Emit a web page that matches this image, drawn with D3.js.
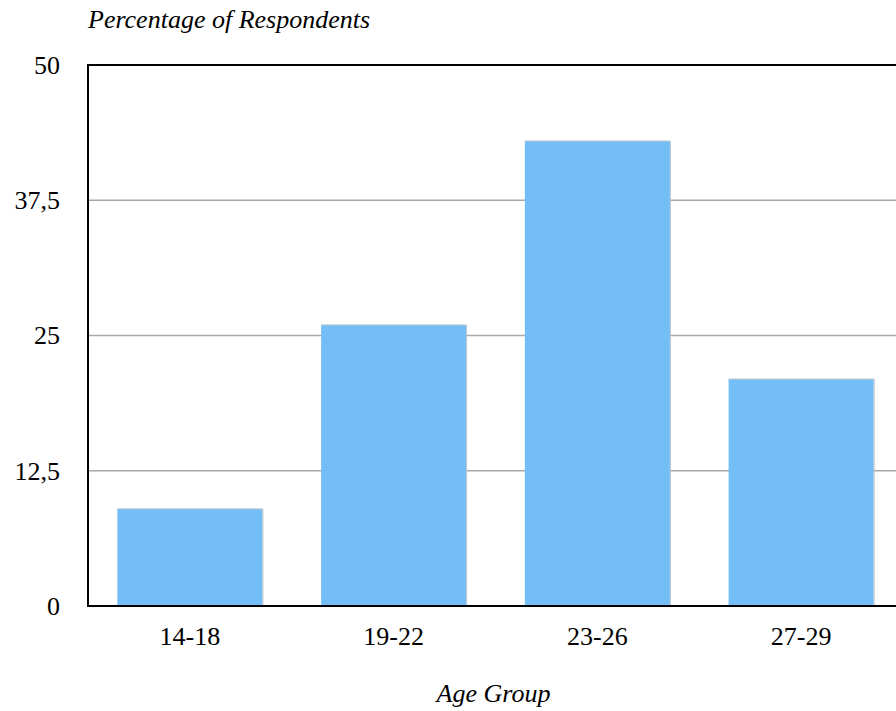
<!DOCTYPE html>
<html>
<head>
<meta charset="utf-8">
<script src="https://cdn.jsdelivr.net/npm/d3@7/dist/d3.min.js"></script>
<style>
  html, body { margin: 0; padding: 0; background: #fff; }
  svg { display: block; font-family: "Liberation Serif", "Times New Roman", serif; }
</style>
</head>
<body>
<svg id="chart" width="896" height="711"></svg>
<script>
// Survey results: share of respondents per age group
const categories = ["14-18", "19-22", "23-26", "27-29"];
const values = [9, 26, 43, 21];
const tickValues = [0, 12.5, 25, 37.5, 50];
const yTitle = "Percentage of Respondents";
const xTitle = "Age Group";

const svg = d3.select("#chart");
const margin = { left: 88, top: 65, right: 903, bottom: 606 };
const fontSize = 26;

const x = d3.scaleBand()
  .domain(categories)
  .range([margin.left, margin.right])
  .paddingInner(0.288)
  .paddingOuter(0.144);

const y = d3.scaleLinear()
  .domain([0, 50])
  .range([margin.bottom, margin.top]);

const fmt = d => String(d).replace(".", ",");

// horizontal gridlines
svg.append("g")
  .selectAll("line")
  .data(tickValues.filter(d => d > 0 && d < 50))
  .join("line")
  .attr("x1", margin.left)
  .attr("x2", margin.right)
  .attr("y1", d => y(d))
  .attr("y2", d => y(d))
  .attr("stroke", "#a8a8a8")
  .attr("stroke-width", 1.5);

// bars
svg.append("g")
  .selectAll("rect")
  .data(values)
  .join("rect")
  .attr("x", (d, i) => x(categories[i]))
  .attr("y", d => y(d))
  .attr("width", x.bandwidth())
  .attr("height", d => y(0) - y(d))
  .attr("fill", "#73bef7");

// light edge on top and right of each bar
svg.append("g")
  .selectAll("path")
  .data(values)
  .join("path")
  .attr("d", (d, i) => {
    const x0 = x(categories[i]), x1 = x0 + x.bandwidth();
    return `M${x0},${y(d) + 0.5}H${x1 + 0.5}V${y(0)}`;
  })
  .attr("fill", "none")
  .attr("stroke", "#b8c2cc")
  .attr("stroke-width", 1);

// plot frame
svg.append("rect")
  .attr("x", margin.left)
  .attr("y", margin.top)
  .attr("width", margin.right - margin.left)
  .attr("height", margin.bottom - margin.top)
  .attr("fill", "none")
  .attr("stroke", "#000")
  .attr("stroke-width", 2);

// y axis labels
const yAxis = d3.axisLeft(y)
  .tickValues(tickValues)
  .tickFormat(fmt)
  .tickSize(0)
  .tickPadding(28);
const gy = svg.append("g")
  .attr("transform", `translate(${margin.left},0)`)
  .call(yAxis);
gy.select(".domain").remove();
gy.selectAll("text")
  .attr("font-family", "Liberation Serif, Times New Roman, serif")
  .attr("font-size", fontSize)
  .attr("fill", "#000");

// x axis labels
const xAxis = d3.axisBottom(x).tickSize(0).tickPadding(21);
const gx = svg.append("g")
  .attr("transform", `translate(0,${margin.bottom})`)
  .call(xAxis);
gx.select(".domain").remove();
gx.selectAll("text")
  .attr("font-family", "Liberation Serif, Times New Roman, serif")
  .attr("font-size", fontSize)
  .attr("fill", "#000");

// axis titles
svg.append("text")
  .attr("x", margin.left)
  .attr("y", 28)
  .attr("font-size", fontSize)
  .attr("font-style", "italic")
  .text(yTitle);

svg.append("text")
  .attr("x", (margin.left + margin.right) / 2 - 2)
  .attr("y", 702)
  .attr("text-anchor", "middle")
  .attr("font-size", fontSize)
  .attr("font-style", "italic")
  .text(xTitle);
</script>
</body>
</html>
